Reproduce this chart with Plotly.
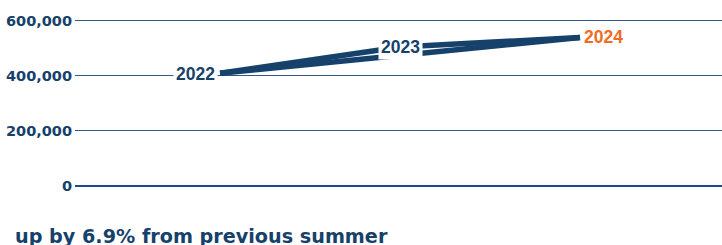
import plotly.graph_objects as go

years = [2022, 2023, 2024]
visitors = [409000, 504000, 539000]
tick_vals = [0, 200000, 400000, 600000]
tick_text = ["0", "200,000", "400,000", "600,000"]
title_text = "up by 6.9% from previous summer"

NAVY = "#16416b"
ORANGE = "#f26b21"

fig = go.Figure()
# main path through the three years
fig.add_trace(go.Scatter(x=years, y=visitors, mode="lines",
                         line=dict(color=NAVY, width=5.5), hoverinfo="skip", showlegend=False))
# direct line from first to last year
fig.add_trace(go.Scatter(x=[years[0], years[-1]], y=[visitors[0], visitors[-1]], mode="lines",
                         line=dict(color=NAVY, width=5.5), hoverinfo="skip", showlegend=False))

label_font = dict(family="Liberation Sans, Arial, sans-serif", size=17.5, color=NAVY, weight="bold")
fig.add_annotation(x=years[0], y=visitors[0], text=str(years[0]), showarrow=False,
                   xanchor="right", yanchor="middle", xshift=-2, yshift=-1,
                   font=label_font, bgcolor="white", borderpad=2)
fig.add_annotation(x=years[1], y=visitors[1], text=str(years[1]), showarrow=False,
                   xanchor="center", yanchor="middle",
                   font=label_font, bgcolor="white", borderpad=2)
fig.add_annotation(x=years[2], y=visitors[2], text=str(years[2]), showarrow=False,
                   xanchor="left", yanchor="middle", xshift=2,
                   font=dict(family="Liberation Sans, Arial, sans-serif", size=17.5,
                             color=ORANGE, weight="bold"))

fig.add_annotation(xref="paper", yref="paper", x=-0.096, y=-0.30, text=title_text,
                   showarrow=False, xanchor="left", yanchor="middle",
                   font=dict(family="DejaVu Sans, sans-serif", size=19.2, color=NAVY, weight="bold"))

fig.update_xaxes(range=[years[0] - 0.806, years[0] + 2.789], visible=False,
                 showgrid=False, zeroline=False)
fig.update_yaxes(range=[0, 606000], tickvals=tick_vals, ticktext=tick_text,
                 showgrid=True, gridcolor="#2f5a88", gridwidth=1,
                 zeroline=True, zerolinecolor="#1c4c84", zerolinewidth=2,
                 showline=False, ticks="", ticklabelstandoff=2,
                 tickfont=dict(family="DejaVu Sans, sans-serif", size=14.5, color=NAVY, weight="bold"))

fig.update_layout(width=722, height=245, margin=dict(l=75, r=0, t=19, b=59),
                  paper_bgcolor="white", plot_bgcolor="white")
fig.write_html("out.html", config={"displayModeBar": False},
               post_script="document.body.style.margin='0';document.body.style.padding='0';")
